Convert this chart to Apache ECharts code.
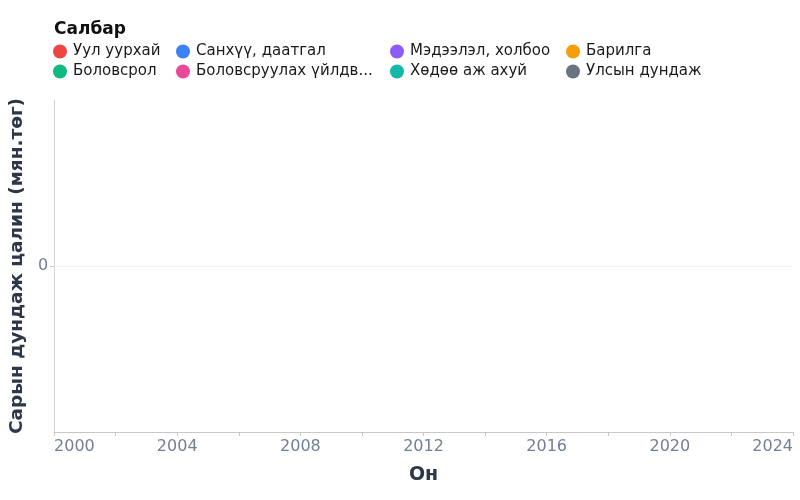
<!DOCTYPE html>
<html>
<head>
<meta charset="utf-8">
<script src="https://cdn.jsdelivr.net/npm/echarts@6/dist/echarts.min.js"></script>
<style>html,body{margin:0;padding:0;background:#fff}#c{width:800px;height:500px}</style>
</head>
<body>
<div id="c"></div>
<script>
const sectors = ['Уул уурхай','Боловсрол','Санхүү, даатгал','Боловсруулах үйлдв...','Мэдээлэл, холбоо','Хөдөө аж ахуй','Барилга','Улсын дундаж'];
const colors = ['#ef4444','#10b981','#3b82f6','#ec4899','#8b5cf6','#14b8a6','#f59e0b','#6b7280'];
const years = [];          // no data points in the reference
const seriesValues = [[],[],[],[],[],[],[],[]];
const xMin = 2000, xMax = 2024, xInterval = 2;
const yZero = [0];

const font = 'DejaVu Sans';
const columns = [[0,1],[2,3],[4,5],[6,7]];
const colLeft = [48, 171, 385, 561];

const legends = columns.map((idx, i) => ({
  orient: 'vertical',
  left: colLeft[i],
  top: 39,
  icon: 'circle',
  itemWidth: 14,
  itemHeight: 14,
  itemGap: 5,
  data: idx.map(k => sectors[k]),
  textStyle: {fontFamily: font, fontSize: 15, color: '#1a1a1a', padding: [0,0,0,1]},
  selectedMode: false
}));

const series = sectors.map((name, i) => ({
  name, type: 'line', color: colors[i],
  data: seriesValues[i].map((v, j) => [years[j], v]),
  markLine: i === 0 ? {
    silent: true, symbol: 'none', label: {show: false},
    lineStyle: {color: '#f2f2f2', type: 'solid', width: 1},
    data: yZero.map(v => ({yAxis: v}))
  } : undefined
}));

const chart = echarts.init(document.getElementById('c'));
chart.setOption({
  animation: false,
  title: {text: 'Салбар', left: 49, top: 16, textStyle: {fontFamily: font, fontSize: 17, fontWeight: 'bold', color: '#111'}},
  legend: legends,
  grid: {left: 54, right: 7, top: 100, bottom: 68, containLabel: false},
  xAxis: {
    type: 'value', min: xMin, max: xMax, interval: xInterval,
    name: 'Он', nameLocation: 'middle', nameGap: 34,
    nameTextStyle: {fontFamily: font, fontSize: 19, fontWeight: 'bold', color: '#2d3748'},
    axisLine: {show: true, onZero: false, lineStyle: {color: '#c8c8c8'}},
    axisTick: {show: true, length: 4, lineStyle: {color: '#c8c8c8'}},
    axisLabel: {fontFamily: font, fontSize: 16, color: '#718096', margin: 7,
      alignMinLabel: 'left', alignMaxLabel: 'right',
      formatter: v => (v % 4 === 0 ? String(v) : '')},
    splitLine: {show: false}
  },
  yAxis: {
    type: 'value', min: -1, max: 1, interval: 1,
    name: 'Сарын дундаж цалин (мян.төг)', nameLocation: 'middle', nameGap: 26,
    nameTextStyle: {fontFamily: font, fontSize: 18.5, fontWeight: 'bold', color: '#2d3748'},
    axisLine: {show: true, onZero: false, lineStyle: {color: '#d4d4d4'}},
    axisTick: {show: true, length: 4, customValues: yZero, lineStyle: {color: '#c8c8c8'}},
    axisLabel: {fontFamily: font, fontSize: 16, color: '#718096', margin: 6, customValues: yZero},
    splitLine: {show: false}
  },
  series
});
</script>
</body>
</html>
